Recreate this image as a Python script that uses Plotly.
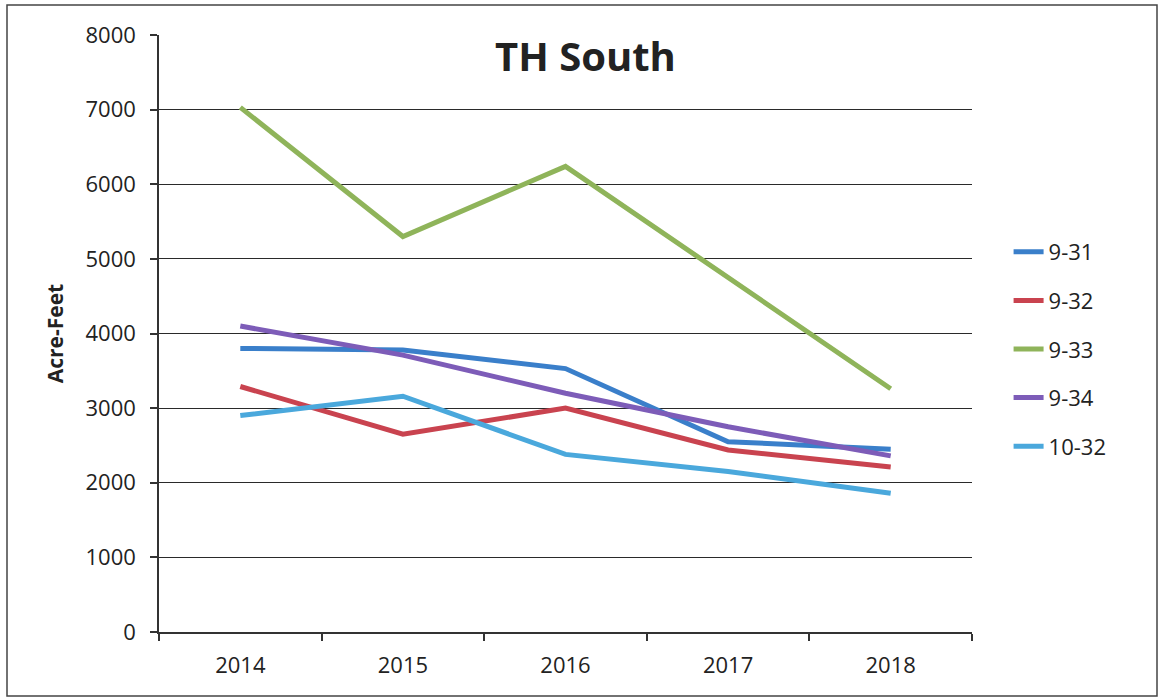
import plotly.graph_objects as go

years = ["2014", "2015", "2016", "2017", "2018"]
s_931 = [3800, 3780, 3530, 2550, 2450]
s_932 = [3290, 2650, 3000, 2440, 2210]
s_933 = [7030, 5300, 6240, 4740, 3260]
s_934 = [4100, 3710, 3200, 2750, 2360]
s_1032 = [2900, 3160, 2380, 2150, 1860]

series = [
    ("9-31", s_931, "#3a7fca"),
    ("9-32", s_932, "#c9434f"),
    ("9-33", s_933, "#8fb45a"),
    ("9-34", s_934, "#7d5cb8"),
    ("10-32", s_1032, "#4aa8dc"),
]

W, H = 1161, 698
L, R, T, B = 159, 189, 35, 66

fig = go.Figure()

for name, vals, color in series:
    fig.add_trace(go.Scatter(
        x=years, y=vals, mode="lines", name=name,
        line=dict(color=color, width=5),
        legendgroup=name,
    ))

font_fam = "Open Sans, Noto Sans, sans-serif"

fig.update_layout(
    width=W, height=H,
    margin=dict(l=L, r=R, t=T, b=B),
    paper_bgcolor="white", plot_bgcolor="white",
    font=dict(family=font_fam, size=22, color="#222"),
    showlegend=True,
    legend=dict(
        x=1.045, y=0.474, xanchor="left", yanchor="middle",
        font=dict(size=22, color="#222"),
        tracegroupgap=17,
        bgcolor="rgba(0,0,0,0)",
    ),
)

fig.update_xaxes(
    type="category", showgrid=False,
    showline=True, linecolor="#333", linewidth=1.5,
    ticks="outside", ticklen=7, tickcolor="#333", tickwidth=1.5,
    tickson="boundaries",
    range=[-0.5, 4.5],
    ticklabelstandoff=13,
    tickfont=dict(size=22, color="#222"),
)
fig.update_yaxes(
    range=[0, 8000], dtick=1000,
    showgrid=True, gridcolor="#2a2a2a", gridwidth=1.3,
    showline=True, linecolor="#333", linewidth=1.5,
    ticks="outside", ticklen=7, tickcolor="#333", tickwidth=1.5,
    zeroline=False,
    ticklabelstandoff=10,
    tickfont=dict(size=22, color="#222"),
    title=dict(text="<b>Acre-Feet</b>", font=dict(size=21, color="#222"), standoff=16),
)

fig.add_annotation(
    text="<b>TH South</b>", xref="paper", yref="paper",
    x=(585 - L) / (W - L - R), y=(H - B - 55) / (H - T - B),
    showarrow=False, xanchor="center", yanchor="middle",
    font=dict(size=40, color="#222", family=font_fam),
)

# outer frame of the scanned chart
pw, ph = W - L - R, H - T - B
fig.add_shape(
    type="rect", xref="paper", yref="paper",
    x0=(7 - L) / pw, x1=(1157 - L) / pw,
    y0=(H - B - 696) / ph, y1=(H - B - 5) / ph,
    line=dict(color="#444", width=1.5), fillcolor="rgba(0,0,0,0)",
    layer="below",
)

fig.write_html("out.html", config={"displayModeBar": False},
               post_script="document.body.style.margin='0';")
